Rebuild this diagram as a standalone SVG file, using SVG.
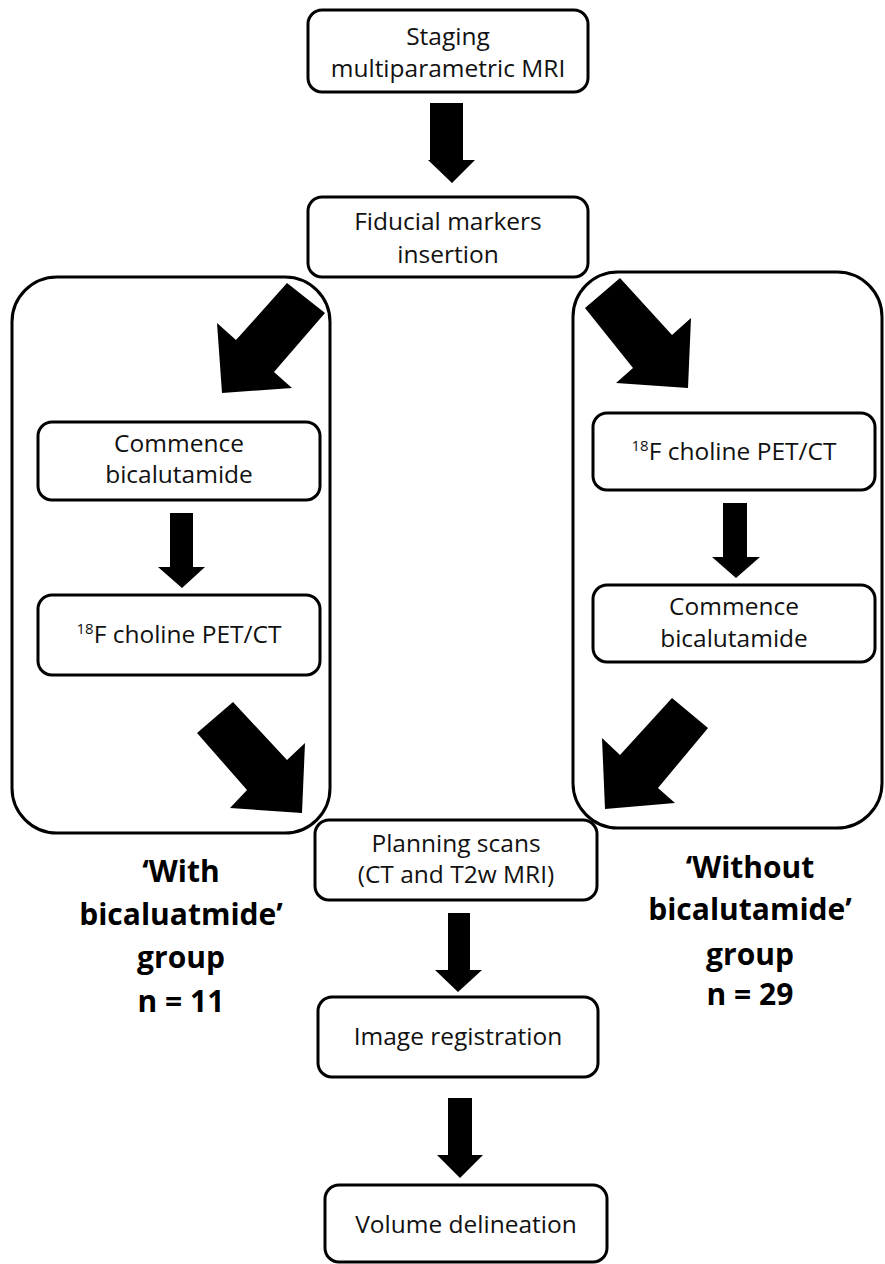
<svg xmlns="http://www.w3.org/2000/svg" width="885" height="1264" viewBox="0 0 885 1264">
  <style>
    .box { fill: #ffffff; stroke: #000000; stroke-width: 3; }
    .grp { fill: none; stroke: #000000; stroke-width: 3; }
    .t { font-family: "Open Sans", "Liberation Sans", sans-serif; font-size: 24.5px; fill: #111111; text-anchor: middle; }
    .sup { font-size: 15px; }
    .lbl { font-family: "Open Sans", "Liberation Sans", sans-serif; font-size: 30px; font-weight: bold; fill: #000000; text-anchor: middle; }
    .arr { fill: #000000; stroke: none; }
  </style>
  <rect width="885" height="1264" fill="#ffffff"/>

  <g id="group-with">
    <rect class="grp" x="12" y="277" width="318" height="556" rx="45" ry="45"/>
  </g>
  <g id="group-without">
    <rect class="grp" x="573" y="272" width="309" height="556" rx="45" ry="45"/>
  </g>

  <g id="connectors">
    <polygon class="arr" points="430,103 463,103 463,160 475,160 452,183 428,160 430,160"/>
    <polygon class="arr" points="287,283 325,313 274,372 292,388 222,393 217,323 236,340"/>
    <polygon class="arr" points="620,278 672,335 691,318 688,388 616,383 633,368 585,308"/>
    <polygon class="arr" points="170,513 193,513 193,567 205,567 182,588 158,567 170,567"/>
    <polygon class="arr" points="723,503 747,503 747,557 760,557 736,578 712,557 723,557"/>
    <polygon class="arr" points="233,702 287,760 305,743 302,813 230,808 247,790 197,733"/>
    <polygon class="arr" points="672,698 708,728 658,788 675,803 605,809 602,738 620,755"/>
    <polygon class="arr" points="448,913 470,913 470,970 482,970 458,992 435,970 448,970"/>
    <polygon class="arr" points="448,1098 472,1098 472,1155 483,1155 460,1178 437,1155 448,1155"/>
  </g>

  <g id="staging">
    <rect class="box" x="308" y="10" width="280" height="82" rx="14"/>
    <text class="t" x="448" y="45">Staging</text>
    <text class="t" x="448" y="77">multiparametric MRI</text>
  </g>
  <g id="fiducial">
    <rect class="box" x="308" y="197" width="280" height="80" rx="14"/>
    <text class="t" x="448" y="230">Fiducial markers</text>
    <text class="t" x="448" y="263">insertion</text>
  </g>
  <g id="commence-left">
    <rect class="box" x="38" y="422" width="282" height="78" rx="14"/>
    <text class="t" x="179" y="452">Commence</text>
    <text class="t" x="179" y="483">bicalutamide</text>
  </g>
  <g id="choline-left">
    <rect class="box" x="38" y="595" width="282" height="80" rx="14"/>
    <text class="t" x="179" y="643"><tspan class="sup" dy="-9">18</tspan><tspan dy="9">F choline PET/CT</tspan></text>
  </g>
  <g id="choline-right">
    <rect class="box" x="593" y="413" width="282" height="77" rx="14"/>
    <text class="t" x="734" y="460"><tspan class="sup" dy="-9">18</tspan><tspan dy="9">F choline PET/CT</tspan></text>
  </g>
  <g id="commence-right">
    <rect class="box" x="593" y="585" width="282" height="77" rx="14"/>
    <text class="t" x="734" y="615">Commence</text>
    <text class="t" x="734" y="647">bicalutamide</text>
  </g>
  <g id="planning">
    <rect class="box" x="315" y="820" width="282" height="80" rx="14"/>
    <text class="t" x="456" y="852">Planning scans</text>
    <text class="t" x="456" y="883">(CT and T2w MRI)</text>
  </g>
  <g id="registration">
    <rect class="box" x="318" y="997" width="280" height="80" rx="14"/>
    <text class="t" x="458" y="1045">Image registration</text>
  </g>
  <g id="delineation">
    <rect class="box" x="325" y="1185" width="282" height="77" rx="14"/>
    <text class="t" x="466" y="1233">Volume delineation</text>
  </g>

  <g id="label-with">
    <text class="lbl" x="181" y="882">‘With</text>
    <text class="lbl" x="181" y="925">bicaluatmide’</text>
    <text class="lbl" x="181" y="968">group</text>
    <text class="lbl" x="181" y="1012">n = 11</text>
  </g>
  <g id="label-without">
    <text class="lbl" x="750" y="878">‘Without</text>
    <text class="lbl" x="750" y="920">bicalutamide’</text>
    <text class="lbl" x="750" y="965">group</text>
    <text class="lbl" x="750" y="1005">n = 29</text>
  </g>
</svg>
